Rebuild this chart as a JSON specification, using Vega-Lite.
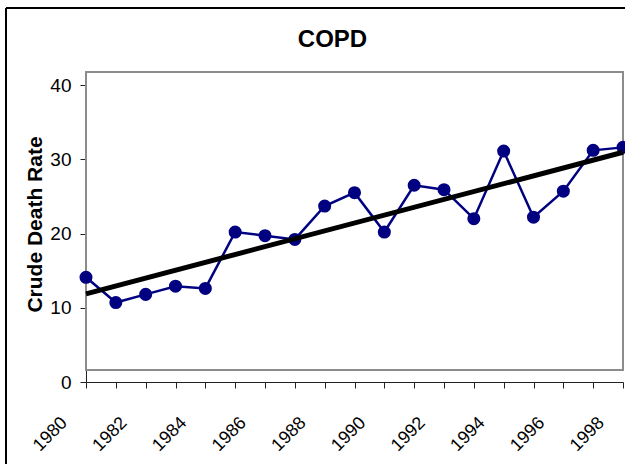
{
  "$schema": "https://vega.github.io/schema/vega-lite/v6.json",
  "width": 537,
  "height": 297,
  "autosize": "none",
  "padding": {"left": 86, "top": 85, "right": 2, "bottom": 82},
  "background": "white",
  "title": {
    "text": "COPD",
    "font": "Liberation Sans",
    "fontSize": 24,
    "fontWeight": "bold",
    "color": "black",
    "anchor": "middle",
    "dx": -22,
    "offset": -63,
    "baseline": "alphabetic"
  },
  "config": {
    "view": {"stroke": null},
    "axis": {
      "labelFont": "Liberation Sans",
      "titleFont": "Liberation Sans",
      "labelColor": "black",
      "titleColor": "black",
      "domainColor": "#222222",
      "tickColor": "#222222",
      "domainWidth": 1,
      "tickWidth": 1,
      "tickSize": 6,
      "grid": false
    }
  },
  "data": {
    "values": [
      {"year": 1980, "rate": 14.1},
      {"year": 1981, "rate": 10.7},
      {"year": 1982, "rate": 11.8},
      {"year": 1983, "rate": 12.9},
      {"year": 1984, "rate": 12.6},
      {"year": 1985, "rate": 20.2},
      {"year": 1986, "rate": 19.7},
      {"year": 1987, "rate": 19.2},
      {"year": 1988, "rate": 23.7},
      {"year": 1989, "rate": 25.5},
      {"year": 1990, "rate": 20.2},
      {"year": 1991, "rate": 26.5},
      {"year": 1992, "rate": 25.9},
      {"year": 1993, "rate": 22.0},
      {"year": 1994, "rate": 31.1},
      {"year": 1995, "rate": 22.2},
      {"year": 1996, "rate": 25.7},
      {"year": 1997, "rate": 31.2},
      {"year": 1998, "rate": 31.6}
    ]
  },
  "encoding": {
    "x": {
      "field": "year",
      "type": "quantitative",
      "scale": {"domain": [1980, 1998], "nice": false, "zero": false},
      "axis": {
        "title": null,
        "values": [1980,1981,1982,1983,1984,1985,1986,1987,1988,1989,1990,1991,1992,1993,1994,1995,1996,1997,1998],
        "format": "d",
        "labelExpr": "datum.value % 2 === 0 ? datum.label : ''",
        "labelAngle": -45,
        "labelAlign": "center",
        "labelBaseline": "middle",
        "labelFontSize": 18,
        "labelPadding": 46,
        "labelOffset": -36,
        "labelOverlap": false,
        "labelFlush": false
      }
    },
    "y": {
      "field": "rate",
      "type": "quantitative",
      "scale": {"domain": [0, 40], "nice": false},
      "axis": {
        "title": "Crude Death Rate",
        "values": [0, 10, 20, 30, 40],
        "labelFontSize": 19,
        "labelPadding": 9,
        "titleFontSize": 21,
        "titleFontWeight": "bold",
        "titleAngle": -90,
        "titleAlign": "center",
        "titleBaseline": "middle",
        "titleX": -51,
        "titleY": 139
      }
    }
  },
  "layer": [
    {
      "mark": {"type": "rect", "fill": null, "stroke": "black", "strokeWidth": 1, "clip": false},
      "encoding": {
        "x": {"datum": 1977.32, "type": "quantitative"},
        "x2": {"datum": 2001},
        "y": {"datum": 50.37, "type": "quantitative"},
        "y2": {"datum": -20}
      }
    },
    {
      "mark": {"type": "rect", "fill": null, "stroke": "#8c8c8c", "strokeWidth": 2, "clip": false},
      "encoding": {
        "x": {"datum": 1980, "type": "quantitative"},
        "x2": {"datum": 1998},
        "y": {"datum": 41.75, "type": "quantitative"},
        "y2": {"datum": 1.62}
      }
    },
    {
      "mark": {"type": "line", "color": "#000080", "strokeWidth": 2.5}
    },
    {
      "mark": {"type": "point", "filled": true, "color": "#000080", "size": 170, "opacity": 1}
    },
    {
      "transform": [{"regression": "rate", "on": "year"}],
      "mark": {"type": "line", "color": "black", "strokeWidth": 5}
    }
  ]
}
